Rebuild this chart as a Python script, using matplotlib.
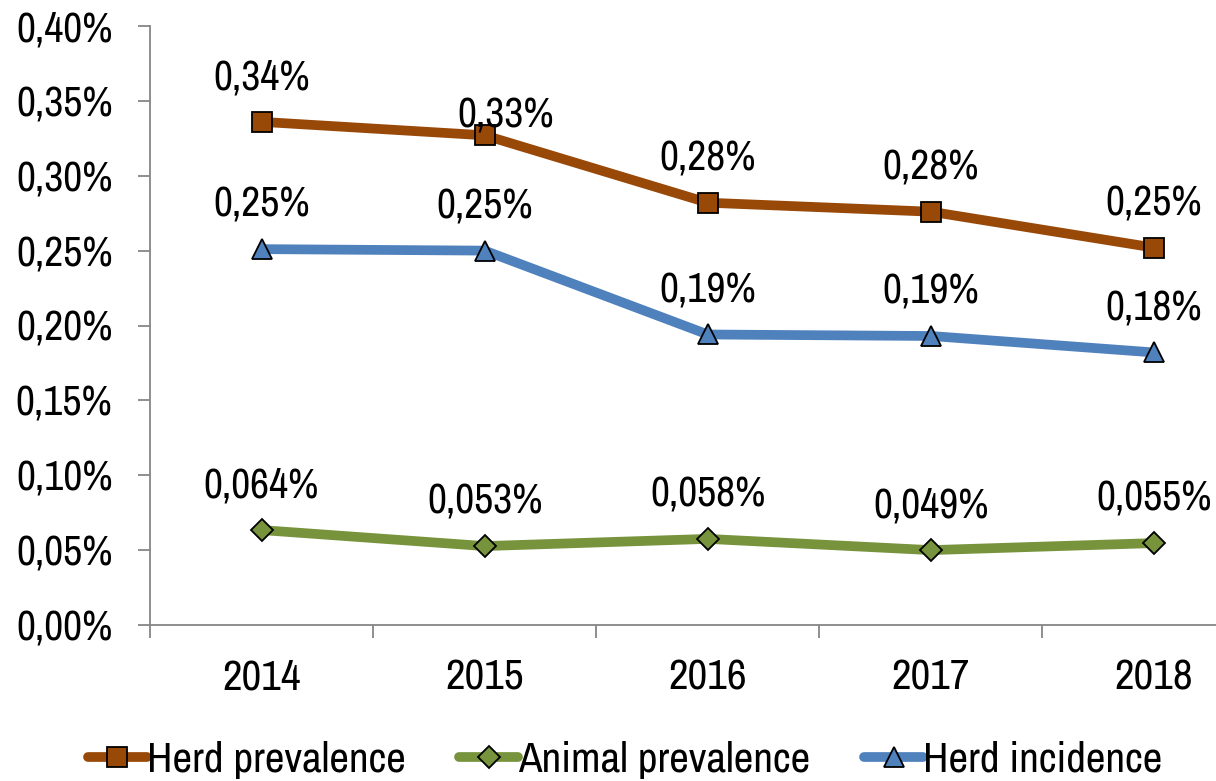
import matplotlib
matplotlib.use("Agg")
import matplotlib.pyplot as plt
from matplotlib.ticker import FuncFormatter

years = ["2014", "2015", "2016", "2017", "2018"]
herd_prev = [0.336, 0.327, 0.282, 0.276, 0.252]
animal_prev = [0.0634, 0.0527, 0.0575, 0.0500, 0.0547]
herd_inc = [0.251, 0.250, 0.194, 0.193, 0.182]
herd_prev_lbl = ["0,34%", "0,33%", "0,28%", "0,28%", "0,25%"]
animal_prev_lbl = ["0,064%", "0,053%", "0,058%", "0,049%", "0,055%"]
herd_inc_lbl = ["0,25%", "0,25%", "0,19%", "0,19%", "0,18%"]

plt.rcParams['font.family'] = ['Liberation Sans Narrow', 'Archivo Narrow', 'Liberation Sans', 'DejaVu Sans']
FS = 30

fig = plt.figure(figsize=(12.16, 7.81), dpi=100)
W, H = 1216, 781
ax = fig.add_axes([150 / W, 1 - 625 / H, (W - 150) / W, (625 - 26) / H])
x = list(range(len(years)))

# manual label nudges (points), as in the source chart
nudge = {("Herd prevalence", 1): (15, 14)}

series = [
    (herd_prev, herd_prev_lbl, "#984807", "s", 14, "Herd prevalence"),
    (animal_prev, animal_prev_lbl, "#77933C", "D", 11, "Animal prevalence"),
    (herd_inc, herd_inc_lbl, "#4F81BD", "^", 15, "Herd incidence"),
]
for vals, lbls, col, mk, ms, name in series:
    ax.plot(x, vals, color=col, lw=7, marker=mk, ms=ms, mfc=col, mec="black",
            mew=1.3, label=name, solid_capstyle="round", zorder=3)
    for xi, v, t in zip(x, vals, lbls):
        off = nudge.get((name, xi), (0, 32))
        ax.annotate(t, (xi, v), xytext=off, textcoords="offset points",
                    ha="center", va="center", fontsize=FS, color="black", zorder=5)

ax.set_yticks([i * 0.05 for i in range(9)])
ax.yaxis.set_major_formatter(FuncFormatter(lambda v, p: f"{v:.2f}%".replace(".", ",")))
ax.set_xticks(x)
ax.set_xticklabels(years)
ax.set_xticks([i - 0.5 for i in range(6)], minor=True)
ax.set_ylim(0, 0.40)
ax.set_xlim(-0.5, (W - 262) / 223)
ax.tick_params(axis="x", which="major", length=0, pad=24, labelsize=31)
ax.tick_params(axis="x", which="minor", length=9, color="#868686", width=1.3)
ax.tick_params(axis="y", length=9, color="#868686", width=1.3, labelsize=FS, pad=18)
for s in ["top", "right"]:
    ax.spines[s].set_visible(False)
for s in ["left", "bottom"]:
    ax.spines[s].set_color("#868686")
    ax.spines[s].set_linewidth(1.3)

leg = fig.legend(loc="center", bbox_to_anchor=(625 / W, 1 - 760 / H), ncol=3,
                 frameon=False, fontsize=31, handlelength=1.37, handletextpad=0.0,
                 columnspacing=1.25, borderaxespad=0)
fig.savefig("out.png", dpi=100)
